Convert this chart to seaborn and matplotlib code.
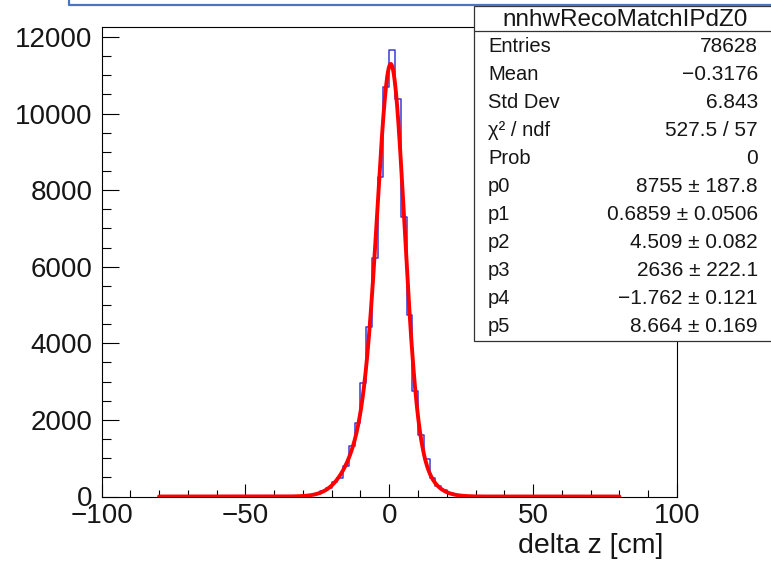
import numpy as np
import pandas as pd
import matplotlib
matplotlib.use("Agg")
import matplotlib.pyplot as plt
from matplotlib.lines import Line2D
from matplotlib.patches import Rectangle
from matplotlib.ticker import MultipleLocator
import seaborn as sns

# delta z histogram, 2 cm bins from -40 to 40 cm
bin_range = (-40, 40)
bin_width = 2
counts = [0, 1, 2, 5, 11, 22, 40, 75, 135, 230,
          370, 490, 800, 1330, 1910, 2960, 4430, 6240, 8340, 10700,
          11650, 10380, 7300, 4740, 2750, 1600, 980, 480, 280, 160,
          90, 48, 25, 12, 6, 3, 1, 1, 0, 0]

# double gaussian fit: p0*G(p1,p2) + p3*G(p4,p5), fitted on [-80, 80]
fit_params = [8755.0, 0.6859, 4.509, 2636.0, -1.762, 8.664]
fit_range = (-80.0, 80.0)

hist_name = "nnhwRecoMatchIPdZ0"
stat_labels = ["Entries", "Mean", "Std Dev", "χ² / ndf", "Prob",
               "p0", "p1", "p2", "p3", "p4", "p5"]
stat_values = ["78628", "−0.3176", "6.843", "527.5 / 57", "0",
               "8755 ± 187.8", "0.6859 ± 0.0506", "4.509 ± 0.082",
               "2636 ± 222.1", "−1.762 ± 0.121", "8.664 ± 0.169"]

x_ticks = [-100, -50, 0, 50, 100]
y_ticks = [0, 2000, 4000, 6000, 8000, 10000, 12000]

sns.set_style("white")
plt.rcParams["font.family"] = ["Liberation Sans", "DejaVu Sans"]
plt.rcParams["axes.unicode_minus"] = True

W, H = 771, 562
fig = plt.figure(figsize=(W / 100, H / 100), dpi=100)
fig.patch.set_facecolor("white")

TEXT = "#161616"


def fx(px):
    return px / W


def fy(py):
    return 1 - py / H


ax = fig.add_axes([fx(101.5), fy(496.5), fx(677) - fx(101.5), fy(27) - fy(496.5)])
ax.set_facecolor("white")

n_bins = len(counts)
centers = bin_range[0] + bin_width * (np.arange(n_bins) + 0.5)
hist_df = pd.DataFrame({"dz": centers, "n": np.array(counts, dtype=float)})
sns.histplot(data=hist_df, x="dz", weights="n", bins=n_bins, binrange=bin_range,
             element="step", fill=False, color="#3a3ad8", linewidth=1.1, ax=ax)


def double_gaus(x, p):
    return (p[0] * np.exp(-0.5 * ((x - p[1]) / p[2]) ** 2)
            + p[3] * np.exp(-0.5 * ((x - p[4]) / p[5]) ** 2))


xf = np.linspace(fit_range[0], fit_range[1], 1601)
fit_df = pd.DataFrame({"dz": xf, "f": double_gaus(xf, fit_params)})
sns.lineplot(data=fit_df, x="dz", y="f", color="#ff0000",
             linewidth=2.8, ax=ax, zorder=3)

ax.set_xlim(-100, 100)
ax.set_ylim(0, 12260)
ax.set_xticks(x_ticks)
ax.set_yticks(y_ticks)
ax.set_xticklabels([f"{t:g}".replace("-", "−") for t in x_ticks])
ax.set_yticklabels([f"{t:g}" for t in y_ticks])
ax.xaxis.set_minor_locator(MultipleLocator(10))
ax.yaxis.set_minor_locator(MultipleLocator(500))
ax.set_xlabel("")
ax.set_ylabel("")

for s in ax.spines.values():
    s.set_color("black")
    s.set_linewidth(0.8)

ax.tick_params(axis="both", which="both", direction="in", top=False, right=False,
               bottom=True, left=True,
               colors="black", width=0.8, labelsize=20, labelcolor=TEXT)
ax.tick_params(axis="x", which="major", length=9.5, pad=4.5)
ax.tick_params(axis="x", which="minor", length=5)
ax.tick_params(axis="y", which="major", length=12, pad=6.5)
ax.tick_params(axis="y", which="minor", length=6.5)

fig.text(fx(663), fy(553), "delta z [cm]", ha="right", va="baseline",
         fontsize=20.5, color=TEXT)

# statistics box
box_left, box_top, box_bottom, box_right = 474, 6, 341, 790
fig.add_artist(Rectangle((fx(box_left), fy(box_bottom)),
                         fx(box_right) - fx(box_left), fy(box_top) - fy(box_bottom),
                         transform=fig.transFigure, facecolor="white",
                         edgecolor="#333333", linewidth=0.9, zorder=5))
fig.add_artist(Line2D([fx(box_left), fx(box_right)], [fy(31), fy(31)],
                      transform=fig.transFigure, color="#333333",
                      linewidth=0.9, zorder=6))
fig.text(fx(625), fy(19.5), hist_name, ha="center", va="center",
         fontsize=17.5, color=TEXT, zorder=7)

row0, row_step = 46.5, 28.05
for i, (lab, val) in enumerate(zip(stat_labels, stat_values)):
    yy = fy(row0 + i * row_step)
    fig.text(fx(488), yy, lab, ha="left", va="center", fontsize=14.5,
             color=TEXT, zorder=7)
    fig.text(fx(758), yy, val, ha="right", va="center", fontsize=15,
             color=TEXT, zorder=7)

# slide frame line along the top
frame_color = "#4a76c0"
fig.add_artist(Line2D([fx(69), fx(69), fx(W + 5)], [fy(-2), fy(5), fy(5)],
                      transform=fig.transFigure, color=frame_color,
                      linewidth=1.6, zorder=8))

fig.savefig("out.png", dpi=100)
